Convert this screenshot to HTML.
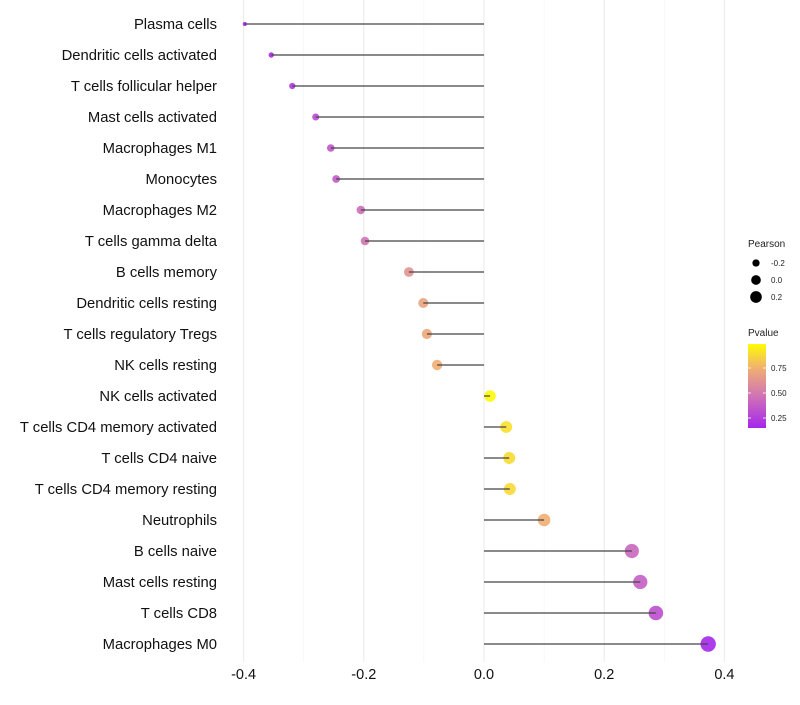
<!DOCTYPE html>
<html><head><meta charset="utf-8"><style>
body{margin:0;background:#fff;font-family:"Liberation Sans",sans-serif}
</style></head><body>
<svg id="chart" width="800" height="700" xmlns="http://www.w3.org/2000/svg"></svg>
<script>
const categories=["Plasma cells","Dendritic cells activated","T cells follicular helper","Mast cells activated","Macrophages M1","Monocytes","Macrophages M2","T cells gamma delta","B cells memory","Dendritic cells resting","T cells regulatory  Tregs ","NK cells resting","NK cells activated","T cells CD4 memory activated","T cells CD4 naive","T cells CD4 memory resting","Neutrophils","B cells naive","Mast cells resting","T cells CD8","Macrophages M0"];
const pearson=[-0.398,-0.354,-0.319,-0.28,-0.255,-0.246,-0.205,-0.198,-0.125,-0.101,-0.095,-0.078,0.01,0.037,0.042,0.043,0.1,0.246,0.26,0.286,0.373];
const pvalue=[0.12,0.17,0.22,0.3,0.35,0.36,0.45,0.47,0.62,0.7,0.71,0.74,0.98,0.9,0.89,0.88,0.74,0.42,0.38,0.32,0.15];
const xTicks=[-0.4,-0.2,0.0,0.2,0.4];
const xTickLabels=["-0.4","-0.2","0.0","0.2","0.4"];
const sizeLegend=[-0.2,0.0,0.2];
const colorLegend=[0.25,0.5,0.75];
const NS="http://www.w3.org/2000/svg";
const svg=document.getElementById('chart');
const x=v=>484+v*601;
const y=i=>24+i*31;
const r=v=>Math.sqrt(Math.max(1,4+(v+0.4)*71.4));
const stops=[[0.12,[160,32,240]],[0.5,[212,122,176]],[0.75,[240,176,112]],[1.0,[255,255,0]]];
function col(p){
  if(p<=stops[0][0])return 'rgb('+stops[0][1]+')';
  for(let k=1;k<stops.length;k++){if(p<=stops[k][0]){const a=stops[k-1],b=stops[k],t=(p-a[0])/(b[0]-a[0]);return 'rgb('+a[1].map((c,j)=>Math.round(c+(b[1][j]-c)*t)).join(',')+')';}}
  return 'rgb(255,255,0)';
}
function el(tag,attrs,txt){const e=document.createElementNS(NS,tag);for(const k in attrs)e.setAttribute(k,attrs[k]);if(txt!==undefined)e.textContent=txt;svg.appendChild(e);return e;}
[-0.4,-0.3,-0.2,-0.1,0,0.1,0.2,0.3,0.4].forEach((v,i)=>{const g=el('line',{x1:x(v),x2:x(v),y1:0,y2:662,stroke:i%2===0?'#ebebeb':'#f4f4f4','stroke-width':i%2===0?1.1:0.6});

});
xTicks.forEach((v,i)=>{const t=el('text',{x:x(v),y:679,'text-anchor':'middle','font-size':14.5,fill:'#111'},xTickLabels[i]);

});
categories.forEach((c,i)=>{
  const t=el('text',{x:217,y:y(i)+5,'text-anchor':'end','font-size':14.8,fill:'#111'},c);
  
  
  const p=el('circle',{cx:x(pearson[i]),cy:y(i),r:r(pearson[i]),fill:col(pvalue[i]),'fill-opacity':0.9});
  
  
  const l=el('line',{x1:x(0),x2:x(pearson[i]),y1:y(i),y2:y(i),stroke:'#444','stroke-width':1.2});
  
  
});
const lt=el('text',{x:748,y:247,'font-size':10,fill:'#222'},'Pearson');


sizeLegend.forEach((v,i)=>{
  const c=el('circle',{cx:756,cy:263+i*17,r:r(v)*0.85,fill:'#000'});
  
  
  const t=el('text',{x:771,y:266+i*17,'font-size':8,fill:'#222'},v===0?'0.0':String(v));
  
  
});
const ct=el('text',{x:748,y:336,'font-size':10,fill:'#222'},'Pvalue');


const defs=el('defs',{});
const lg=document.createElementNS(NS,'linearGradient');lg.setAttribute('id','pg');lg.setAttribute('x1','0');lg.setAttribute('y1','1');lg.setAttribute('x2','0');lg.setAttribute('y2','0');
defs.appendChild(lg);
const pTop=0.99,pBot=0.15;
for(let k=0;k<=10;k++){const p=pBot+(pTop-pBot)*k/10;const s=document.createElementNS(NS,'stop');s.setAttribute('offset',k/10);s.setAttribute('stop-color',col(p));lg.appendChild(s);}
const py=p=>344+(pTop-p)/(pTop-pBot)*84;
const bar=el('rect',{x:748,y:344,width:18,height:84,fill:'url(#pg)'});


colorLegend.forEach(v=>{
  el('line',{x1:748,x2:751,y1:py(v),y2:py(v),stroke:'#fff','stroke-width':0.8});
  el('line',{x1:763,x2:766,y1:py(v),y2:py(v),stroke:'#fff','stroke-width':0.8});
  const t=el('text',{x:771,y:py(v)+3,'font-size':8,fill:'#222'},v.toFixed(2));
  
  
});
</script>
</body></html>
